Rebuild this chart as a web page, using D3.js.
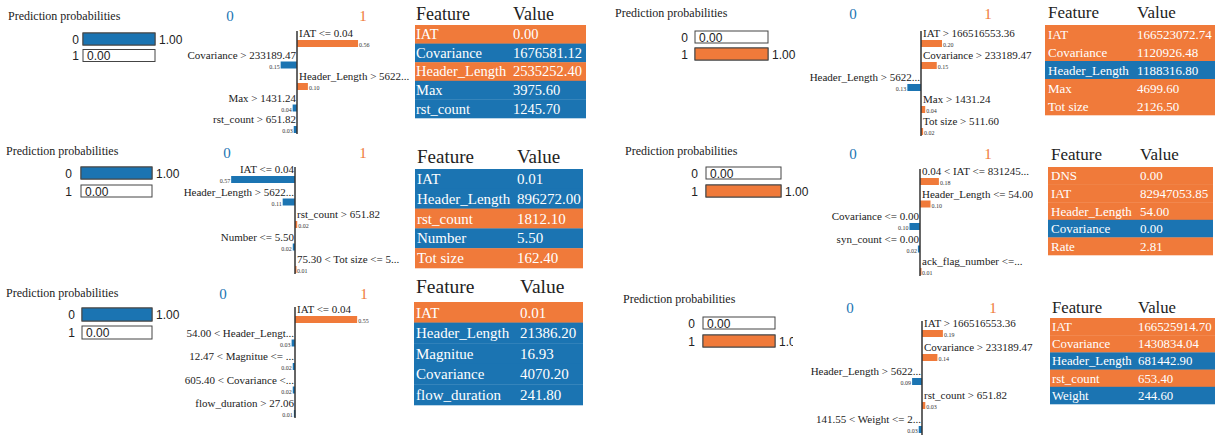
<!DOCTYPE html>
<html><head><meta charset="utf-8">
<script src="https://cdn.jsdelivr.net/npm/d3@7"></script>
<style>body{margin:0;background:#fff}</style></head>
<body>
<svg id="c" width="1225" height="435"></svg>
<script>
// ---------- DATA ----------
const classNames = ["0", "1"];
const tableHeader = ["Feature", "Value"];

const probs1 = [1.00, 0.00];
const features1 = ["IAT <= 0.04", "Covariance > 233189.47", "Header_Length > 5622...", "Max > 1431.24", "rst_count > 651.82"];
const weights1 = [0.56, -0.15, 0.10, -0.04, -0.03];
const tableNames1 = ["IAT", "Covariance", "Header_Length", "Max", "rst_count"];
const tableValues1 = ["0.00", "1676581.12", "2535252.40", "3975.60", "1245.70"];
const tableClass1 = [1, 0, 1, 0, 0];

const probs2 = [0.00, 1.00];
const features2 = ["IAT > 166516553.36", "Covariance > 233189.47", "Header_Length > 5622...", "Max > 1431.24", "Tot size > 511.60"];
const weights2 = [0.20, 0.15, -0.13, 0.04, 0.02];
const tableNames2 = ["IAT", "Covariance", "Header_Length", "Max", "Tot size"];
const tableValues2 = ["166523072.74", "1120926.48", "1188316.80", "4699.60", "2126.50"];
const tableClass2 = [1, 1, 0, 1, 1];

const probs3 = [1.00, 0.00];
const features3 = ["IAT <= 0.04", "Header_Length > 5622...", "rst_count > 651.82", "Number <= 5.50", "75.30 < Tot size <= 5..."];
const weights3 = [-0.57, -0.11, 0.02, -0.02, 0.01];
const tableNames3 = ["IAT", "Header_Length", "rst_count", "Number", "Tot size"];
const tableValues3 = ["0.01", "896272.00", "1812.10", "5.50", "162.40"];
const tableClass3 = [0, 0, 1, 0, 1];

const probs4 = [0.00, 1.00];
const features4 = ["0.04 < IAT <= 831245...", "Header_Length <= 54.00", "Covariance <= 0.00", "syn_count <= 0.00", "ack_flag_number <=..."];
const weights4 = [0.18, 0.10, -0.10, -0.02, 0.01];
const tableNames4 = ["DNS", "IAT", "Header_Length", "Covariance", "Rate"];
const tableValues4 = ["0.00", "82947053.85", "54.00", "0.00", "2.81"];
const tableClass4 = [1, 1, 1, 0, 1];

const probs5 = [1.00, 0.00];
const features5 = ["IAT <= 0.04", "54.00 < Header_Lengt...", "12.47 < Magnitue <= ...", "605.40 < Covariance <...", "flow_duration > 27.06"];
const weights5 = [0.55, -0.03, -0.02, -0.02, -0.01];
const tableNames5 = ["IAT", "Header_Length", "Magnitue", "Covariance", "flow_duration"];
const tableValues5 = ["0.01", "21386.20", "16.93", "4070.20", "241.80"];
const tableClass5 = [1, 0, 0, 0, 0];

const probs6 = [0.00, 1.00];
const features6 = ["IAT > 166516553.36", "Covariance > 233189.47", "Header_Length > 5622...", "rst_count > 651.82", "141.55 < Weight <= 2..."];
const weights6 = [0.19, 0.14, -0.09, 0.03, -0.03];
const tableNames6 = ["IAT", "Covariance", "Header_Length", "rst_count", "Weight"];
const tableValues6 = ["166525914.70", "1430834.04", "681442.90", "653.40", "244.60"];
const tableClass6 = [1, 1, 0, 1, 0];

// ---------- LAYOUT / STYLE ----------
const BLUE = "#1b74b2", ORANGE = "#f07a3a";
const SERIF = "'Liberation Serif','Times New Roman',serif";
const SANS = "'Liberation Sans',Arial,sans-serif";

const layouts = [
  {title:[8,20], pLab:79, pX:83, pW:72, pY0:33, pY1:49.5, pH:12, cls0:230, cls1:363, clsY:21,
   ax:297, base:37, step:21.5, sc:109, tX:415, tW:171, hY:20, fX:416, vX:513, tTop:25, rH:18.6, hF:18, rF:14.5},
  {title:[615,17], pLab:688, pX:695, pW:73, pY0:31, pY1:48, pH:12, cls0:853, cls1:988, clsY:19,
   ax:921, base:37, step:22, sc:105, tX:1045, tW:170, hY:18, fX:1048, vX:1137, tTop:25, rH:18, hF:17, rF:13},
  {title:[6,155], pLab:72, pX:81, pW:71, pY0:167, pY1:185, pH:12, cls0:227, cls1:363, clsY:158,
   ax:295, base:173, step:22.5, sc:112, tX:415, tW:168, hY:163, fX:417, vX:517, tTop:169, rH:19.8, hF:19, rF:15},
  {title:[625,155], pLab:698, pX:706, pW:75, pY0:167, pY1:185, pH:12, cls0:853, cls1:988, clsY:159,
   ax:920, base:175, step:22.5, sc:105, tX:1048, tW:165, hY:160, fX:1051, vX:1140, tTop:167, rH:17.6, hF:17, rF:13},
  {title:[6,297], pLab:75, pX:82, pW:70, pY0:308, pY1:326, pH:13, cls0:223, cls1:364, clsY:299,
   ax:295, base:313, step:23.5, sc:113, tX:414, tW:169, hY:293, fX:416, vX:520, tTop:302, rH:20.6, hF:19.5, rF:15},
  {title:[623,303], pLab:695, pX:703, pW:72, pY0:317, pY1:335, pH:12, cls0:850, cls1:993, clsY:313,
   ax:922, base:327, step:24, sc:110, tX:1050, tW:165, hY:313, fX:1052, vX:1138, tTop:318, rH:17.2, hF:16.7, rF:12.8, clipR:793}
];

const panelsData = [
  [probs1, features1, weights1, tableNames1, tableValues1, tableClass1],
  [probs2, features2, weights2, tableNames2, tableValues2, tableClass2],
  [probs3, features3, weights3, tableNames3, tableValues3, tableClass3],
  [probs4, features4, weights4, tableNames4, tableValues4, tableClass4],
  [probs5, features5, weights5, tableNames5, tableValues5, tableClass5],
  [probs6, features6, weights6, tableNames6, tableValues6, tableClass6]
];

const svg = d3.select("#c");
const defs = svg.append("defs");

panelsData.forEach((pd, pi) => {
  const [probs, feats, wts, tNames, tVals, tCls] = pd;
  const L = layouts[pi];
  const g = svg.append("g");
  const colorOf = c => c === 1 ? ORANGE : BLUE;

  // Title
  g.append("text").attr("x", L.title[0]).attr("y", L.title[1])
    .attr("font-family", SERIF).attr("font-size", 12).attr("fill", "#222")
    .text("Prediction probabilities");

  // Probability bars
  let pg = g.append("g");
  if (L.clipR) {
    const id = "clip" + pi;
    defs.append("clipPath").attr("id", id).append("rect")
      .attr("x", 0).attr("y", 0).attr("width", L.clipR).attr("height", 435);
    pg.attr("clip-path", `url(#${id})`);
  }
  const px = d3.scaleLinear().domain([0, 1]).range([0, L.pW]);
  const py = d3.scaleLinear().domain([0, 1]).range([L.pY0, L.pY1]);
  probs.forEach((p, i) => {
    pg.append("rect").attr("x", L.pX).attr("y", py(i)).attr("width", L.pW).attr("height", L.pH)
      .attr("fill", "#fff").attr("stroke", "#444").attr("stroke-width", 1);
    if (p > 0) {
      pg.append("rect").attr("x", L.pX).attr("y", py(i)).attr("width", px(p)).attr("height", L.pH)
        .attr("fill", colorOf(i)).attr("stroke", "#444").attr("stroke-width", 1);
    }
    pg.append("text").attr("x", L.pLab).attr("y", py(i) + L.pH / 2 + 4.5)
      .attr("text-anchor", "end").attr("font-family", SANS).attr("font-size", 12).attr("fill", "#222")
      .text(classNames[i]);
    const txt = p.toFixed(2);
    if (px(p) > 30) {
      pg.append("text").attr("x", L.pX + px(p) + 4).attr("y", py(i) + L.pH / 2 + 4.5)
        .attr("font-family", SANS).attr("font-size", 12).attr("fill", "#222").text(txt);
    } else {
      pg.append("text").attr("x", L.pX + 4).attr("y", py(i) + L.pH / 2 + 4.5)
        .attr("font-family", SANS).attr("font-size", 12).attr("fill", "#222").text(txt);
    }
  });

  // Class headers
  g.append("text").attr("x", L.cls0).attr("y", L.clsY).attr("font-family", SERIF).attr("font-size", 15)
    .attr("fill", BLUE).attr("text-anchor", "middle").text(classNames[0]);
  g.append("text").attr("x", L.cls1).attr("y", L.clsY).attr("font-family", SERIF).attr("font-size", 15)
    .attr("fill", ORANGE).attr("text-anchor", "middle").text(classNames[1]);

  // Feature weight bars
  const wx = d3.scaleLinear().domain([-1, 1]).range([L.ax - L.sc, L.ax + L.sc]);
  const wy = d3.scaleLinear().domain([0, feats.length - 1]).range([L.base, L.base + L.step * (feats.length - 1)]);
  const barH = 7;
  feats.forEach((f, i) => {
    const w = wts[i];
    const pos = w > 0;
    const x0 = Math.min(wx(0), wx(w)), bw = Math.abs(wx(w) - wx(0));
    const yb = wy(i) + 3;
    g.append("rect").attr("x", x0).attr("y", yb).attr("width", Math.max(bw, 1.5)).attr("height", barH)
      .attr("fill", pos ? ORANGE : BLUE);
    g.append("text").attr("x", pos ? wx(0) + 2 : wx(0) - 1).attr("y", wy(i))
      .attr("text-anchor", pos ? "start" : "end")
      .attr("font-family", SERIF).attr("font-size", 11).attr("fill", "#222").text(f);
    g.append("text").attr("x", pos ? wx(w) + 1 : wx(w) - 1).attr("y", yb + barH)
      .attr("text-anchor", pos ? "start" : "end")
      .attr("font-family", SERIF).attr("font-size", 6).attr("fill", "#333").text(Math.abs(w).toFixed(2));
  });
  const axBottom = Math.min(435, wy(feats.length - 1) + 3 + barH + 1);
  g.append("line").attr("x1", L.ax).attr("x2", L.ax)
    .attr("y1", L.base - 6).attr("y2", pi === 5 ? 435 : axBottom)
    .attr("stroke", "#333").attr("stroke-width", 1.5);

  // Table
  g.append("text").attr("x", L.fX).attr("y", L.hY).attr("font-family", SERIF).attr("font-size", L.hF)
    .attr("fill", "#222").text(tableHeader[0]);
  g.append("text").attr("x", L.vX).attr("y", L.hY).attr("font-family", SERIF).attr("font-size", L.hF)
    .attr("fill", "#222").text(tableHeader[1]);
  const ty = d3.scaleBand().domain(d3.range(tNames.length)).range([L.tTop, L.tTop + L.rH * tNames.length]);
  tNames.forEach((n, i) => {
    g.append("rect").attr("x", L.tX).attr("y", ty(i)).attr("width", L.tW).attr("height", ty.bandwidth() + 0.3)
      .attr("fill", colorOf(tCls[i]));
    g.append("text").attr("x", L.fX).attr("y", ty(i) + ty.bandwidth() * 0.76)
      .attr("font-family", SERIF).attr("font-size", L.rF).attr("fill", "#fff").text(n);
    g.append("text").attr("x", L.vX).attr("y", ty(i) + ty.bandwidth() * 0.76)
      .attr("font-family", SERIF).attr("font-size", L.rF).attr("fill", "#fff").text(tVals[i]);
  });
});
</script>
</body></html>
